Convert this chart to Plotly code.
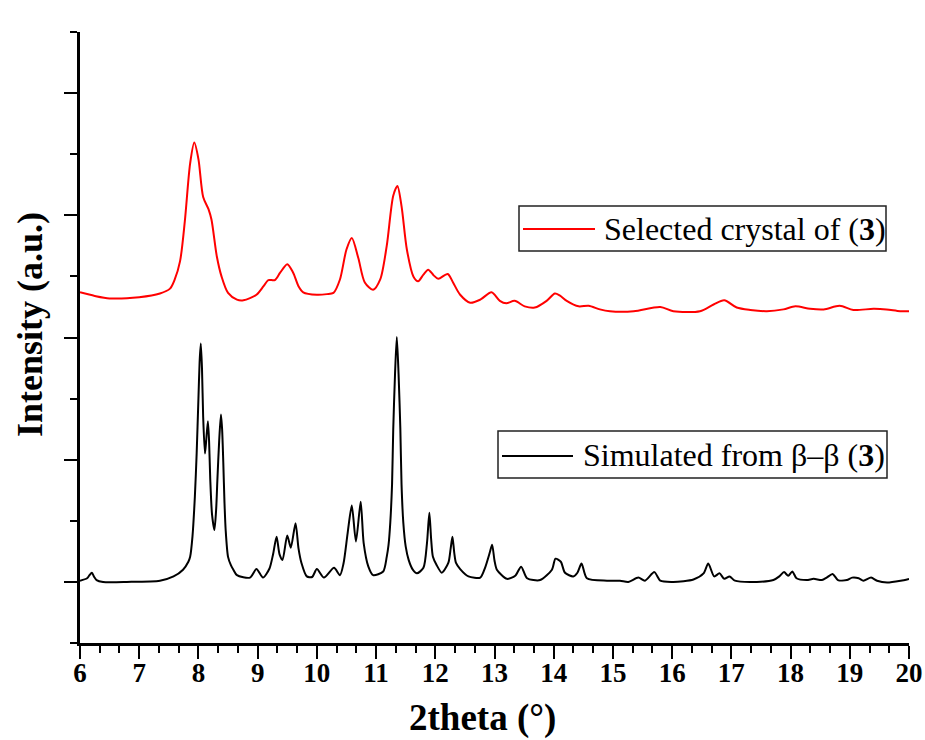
import plotly.graph_objects as go

# Simulated pattern (black), intensity in axis units
sim_x = [6.00, 6.12, 6.16, 6.20, 6.24, 6.28, 6.39, 6.79, 7.35, 7.58, 7.74, 7.83, 7.86, 7.90, 7.94, 7.97,
         8.00, 8.02, 8.04, 8.06, 8.08, 8.11, 8.13, 8.16, 8.18, 8.20, 8.23, 8.27, 8.30, 8.32, 8.35,
         8.38, 8.40, 8.42, 8.44, 8.46, 8.50, 8.55, 8.59, 8.65, 8.87, 8.98, 9.09, 9.20, 9.26,
         9.32, 9.37, 9.42, 9.50, 9.56, 9.64, 9.69, 9.74, 9.83, 9.92, 10.00, 10.12, 10.29, 10.39,
         10.45, 10.52, 10.59, 10.66, 10.74, 10.79, 10.87, 10.95, 11.12, 11.18, 11.21, 11.24, 11.27,
         11.29, 11.32, 11.35, 11.38, 11.41, 11.43, 11.46, 11.50, 11.55, 11.62, 11.69, 11.80, 11.86,
         11.90, 11.93, 11.96, 12.02, 12.11, 12.22, 12.26, 12.29, 12.32, 12.35, 12.42, 12.56,
         12.76, 12.84, 12.92, 12.96, 13.00, 13.04, 13.21, 13.35, 13.45, 13.55, 13.77, 13.97, 14.03,
         14.12, 14.19, 14.33, 14.40, 14.47, 14.56, 14.90, 15.12, 15.26, 15.43, 15.54, 15.70, 15.80,
         16.02, 16.36, 16.53, 16.61, 16.71, 16.80, 16.88, 16.97, 17.06, 17.43, 17.71, 17.81, 17.89,
         17.96, 18.03, 18.10, 18.27, 18.39, 18.53, 18.61, 18.71, 18.80, 18.95, 19.04, 19.15, 19.23,
         19.36, 19.46, 19.63, 19.86, 20.00]
sim_y = [0.02, 0.06, 0.11, 0.15, 0.08, 0.03, 0.00, 0.00, 0.02, 0.09, 0.20, 0.33, 0.41, 0.75, 1.40, 2.10,
         3.00, 3.60, 3.90, 3.50, 2.70, 2.10, 2.30, 2.63, 2.30, 1.67, 1.10, 0.85, 1.20, 1.67, 2.30,
         2.74, 2.50, 1.95, 1.30, 0.85, 0.41, 0.27, 0.20, 0.11, 0.07, 0.21, 0.07, 0.22, 0.45,
         0.74, 0.45, 0.36, 0.76, 0.56, 0.96, 0.55, 0.31, 0.09, 0.08, 0.21, 0.07, 0.23, 0.11,
         0.30, 0.80, 1.25, 0.66, 1.31, 0.64, 0.25, 0.11, 0.17, 0.41, 0.60, 0.97, 1.60,
         2.50, 3.40, 4.01, 3.40, 2.50, 1.60, 0.97, 0.58, 0.36, 0.20, 0.14, 0.23, 0.64,
         1.13, 0.70, 0.41, 0.28, 0.15, 0.31, 0.55, 0.74, 0.48, 0.31, 0.21, 0.09,
         0.07, 0.23, 0.48, 0.61, 0.35, 0.20, 0.05, 0.10, 0.25, 0.06, 0.03, 0.20, 0.38,
         0.33, 0.15, 0.09, 0.15, 0.30, 0.06, 0.02, 0.02, 0.00, 0.07, 0.02, 0.16, 0.02,
         0.00, 0.04, 0.14, 0.30, 0.09, 0.14, 0.05, 0.09, 0.02, 0.00, 0.03, 0.09, 0.16,
         0.10, 0.17, 0.06, 0.03, 0.05, 0.03, 0.07, 0.13, 0.03, 0.03, 0.07, 0.06, 0.02,
         0.07, 0.02, -0.01, 0.02, 0.05]

# Experimental pattern of the selected crystal (red), offset
exp_x = [6.00, 6.25, 6.50, 7.00, 7.35, 7.52, 7.60, 7.69, 7.77, 7.86, 7.93, 8.00, 8.08, 8.17, 8.22,
         8.31, 8.39, 8.50, 8.65, 8.76, 8.98, 9.10, 9.18, 9.29, 9.38, 9.50, 9.60, 9.69, 9.77, 10.00,
         10.17, 10.28, 10.39, 10.50, 10.59, 10.70, 10.81, 10.95, 11.07, 11.18, 11.29, 11.36, 11.43,
         11.52, 11.63, 11.71, 11.80, 11.88, 11.97, 12.05, 12.21, 12.30, 12.42, 12.59, 12.76, 12.95,
         13.09, 13.20, 13.34, 13.51, 13.68, 13.88, 14.02, 14.10, 14.22, 14.42, 14.59, 14.78, 14.95,
         15.35, 15.80, 16.02, 16.47, 16.70, 16.88, 17.09, 17.32, 17.60, 17.88, 18.08, 18.33, 18.56,
         18.83, 19.06, 19.40, 19.62, 19.85, 20.00]
exp_y = [4.74, 4.68, 4.64, 4.66, 4.72, 4.80, 4.95, 5.25, 5.90, 6.85, 7.19, 6.92, 6.30, 6.10, 5.93,
         5.33, 5.00, 4.73, 4.62, 4.61, 4.70, 4.84, 4.94, 4.94, 5.06, 5.20, 5.06, 4.84, 4.74, 4.70,
         4.71, 4.73, 4.95, 5.44, 5.63, 5.30, 4.90, 4.78, 4.95, 5.50, 6.32, 6.48, 6.15,
         5.44, 5.00, 4.92, 5.03, 5.11, 5.02, 4.96, 5.04, 4.90, 4.70, 4.57, 4.62, 4.74,
         4.60, 4.56, 4.60, 4.51, 4.49, 4.60, 4.72, 4.69, 4.60, 4.51, 4.52, 4.46, 4.43,
         4.43, 4.50, 4.43, 4.43, 4.54, 4.61, 4.49, 4.45, 4.43, 4.46, 4.51, 4.47, 4.46,
         4.52, 4.45, 4.47, 4.46, 4.43, 4.43]

x_ticks = list(range(6, 21))
x_tick_labels = [str(v) for v in x_ticks]
x_title = "2theta (°)"
y_title = "Intensity (a.u.)"

FONT = "Liberation Serif, Times New Roman, serif"

fig = go.Figure()
fig.add_trace(go.Scatter(x=exp_x, y=exp_y, mode="lines", name="Selected crystal of (3)",
                         line=dict(color="#ff0000", width=2, shape="spline", smoothing=0.8),
                         showlegend=False))
fig.add_trace(go.Scatter(x=sim_x, y=sim_y, mode="lines", name="Simulated from β–β (3)",
                         line=dict(color="#000000", width=2, shape="spline", smoothing=0.7),
                         showlegend=False))

W, H = 925, 740
L, R, T, B = 80, 909, 32, 643


def px(xs):
    return (xs - L) / (R - L)


def py(ys):
    return (B - ys) / (B - T)


shapes = []
annotations = []
legend_items = [
    dict(box=(519, 206, 886, 251), line=(523, 595, 229), text="Selected crystal of (<b>3</b>)",
         tx=602, ty=229, color="#ff0000"),
    dict(box=(498, 431, 887, 478), line=(502, 573, 456), text="Simulated from β–β (<b>3</b>)",
         tx=581, ty=455, color="#000000"),
]
for it in legend_items:
    x0, y0, x1, y1 = it["box"]
    shapes.append(dict(type="rect", xref="paper", yref="paper", x0=px(x0), x1=px(x1), y0=py(y1), y1=py(y0),
                       line=dict(color="#222222", width=1.5), fillcolor="rgba(255,255,255,0)"))
    lx0, lx1, ly = it["line"]
    shapes.append(dict(type="line", xref="paper", yref="paper", x0=px(lx0), x1=px(lx1), y0=py(ly), y1=py(ly),
                       line=dict(color=it["color"], width=2)))
    annotations.append(dict(xref="paper", yref="paper", x=px(it["tx"]), y=py(it["ty"]), text=it["text"],
                            showarrow=False, xanchor="left", yanchor="middle",
                            font=dict(family=FONT, size=32, color="black")))

# axis titles placed as annotations to match the reference positions
annotations.append(dict(xref="paper", yref="paper", x=px(482), y=py(718), text="<b>" + x_title + "</b>",
                        showarrow=False, xanchor="center", yanchor="middle",
                        font=dict(family=FONT, size=37, color="black")))
annotations.append(dict(xref="paper", yref="paper", x=px(30), y=py(325), text="<b>" + y_title + "</b>",
                        showarrow=False, xanchor="center", yanchor="middle", textangle=-90,
                        font=dict(family=FONT, size=36, color="black")))

fig.update_layout(
    width=W, height=H,
    margin=dict(l=L, r=W - R, t=T, b=H - B, autoexpand=False),
    paper_bgcolor="white", plot_bgcolor="white",
    shapes=shapes, annotations=annotations,
    font=dict(family=FONT, color="black"),
)
fig.update_xaxes(
    range=[6, 20], tickmode="array", tickvals=x_ticks, ticktext=x_tick_labels,
    ticks="outside", ticklen=13, tickwidth=2, tickcolor="black",
    minor=dict(dtick=1 / 3, tick0=6, ticks="outside", ticklen=7, tickwidth=2, tickcolor="black"),
    showline=True, linecolor="black", linewidth=2.5, showgrid=False, zeroline=False,
    automargin=False, ticklabelstandoff=-9,
    tickfont=dict(family=FONT, size=27, color="black", weight="bold"),
)
fig.update_yaxes(
    range=[-1, 9], tickmode="linear", tick0=0, dtick=2, showticklabels=False,
    ticks="outside", ticklen=13, tickwidth=2, tickcolor="black",
    minor=dict(dtick=1, tick0=-1, ticks="outside", ticklen=7, tickwidth=2, tickcolor="black"),
    showline=True, linecolor="black", linewidth=2.5, showgrid=False, zeroline=False,
    automargin=False,
)

# remove the default 8px page margin so the figure fills the window exactly
fig.write_html("out.html", config={"displayModeBar": False},
               post_script="document.body.style.margin='0';")
